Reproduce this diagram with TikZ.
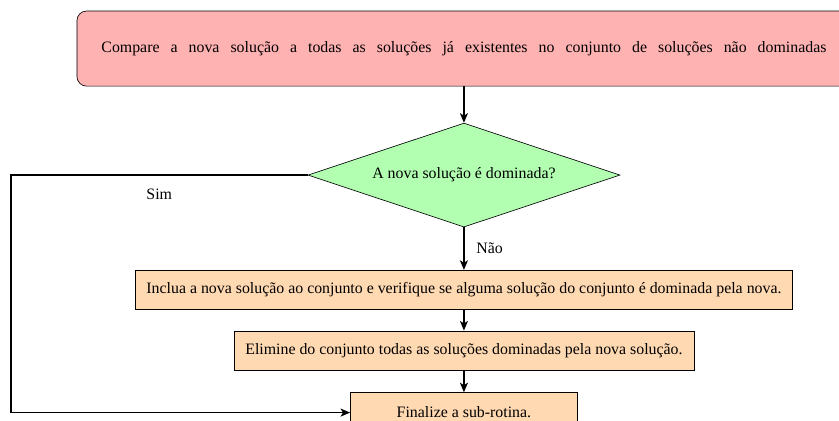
\documentclass[tikz,border=0pt]{standalone}
\usepackage{fontspec}
\setmainfont{Liberation Serif}
\usetikzlibrary{shapes,positioning,arrows,arrows.meta}

\begin{document}
\begin{tikzpicture}
		[font=\fontsize{10}{12}\selectfont,
			inicio/.style={draw, rounded corners=6pt, fill=red!30, minimum width=487.6pt, minimum height=47.3pt},
			decisao/.style={draw, diamond, aspect=3, fill=green!30, minimum width=196.6pt, minimum height=65.5pt, inner sep=0pt},
			passo/.style={draw, fill=orange!30, minimum height=24.6pt},
			seta/.style={-{Stealth[length=6pt,width=5pt,inset=1.5pt]}, line width=1pt}]
		\useasboundingbox (0,0) rectangle (528.6pt,-265.2pt);
		\node[inicio] (comp) at (292.3pt,-30.6pt)
			{\makebox[456.8pt][s]{Compare a nova solução a todas as soluções já existentes no conjunto de soluções não dominadas}};
		\node[decisao, below=22.9pt of comp] (dom) {A nova solução é dominada?};
		\node[passo, minimum width=413.9pt, below=26.8pt of dom] (incl)
			{Inclua a nova solução ao conjunto e verifique se alguma solução do conjunto é dominada pela nova.};
		\node[passo, minimum width=289.9pt, below=13.2pt of incl] (elim)
			{Elimine do conjunto todas as soluções dominadas pela nova solução.};
		\node[passo, minimum width=143pt, minimum height=25.2pt, below=13.9pt of elim] (fim)
			{Finalize a sub-rotina.};
		\coordinate (canto) at (6.9pt,-109.6pt);

		\draw[seta] (comp) -- (dom);
		\draw[seta] (dom) -- node[right=4pt] {Não} (incl);
		\draw[seta] (incl) -- (elim);
		\draw[seta] (elim) -- (fim);
		\draw[seta] (dom.west) -- node[below=5pt] {Sim} (dom.west -| canto) |- (fim.west);
	\end{tikzpicture}
\end{document}
